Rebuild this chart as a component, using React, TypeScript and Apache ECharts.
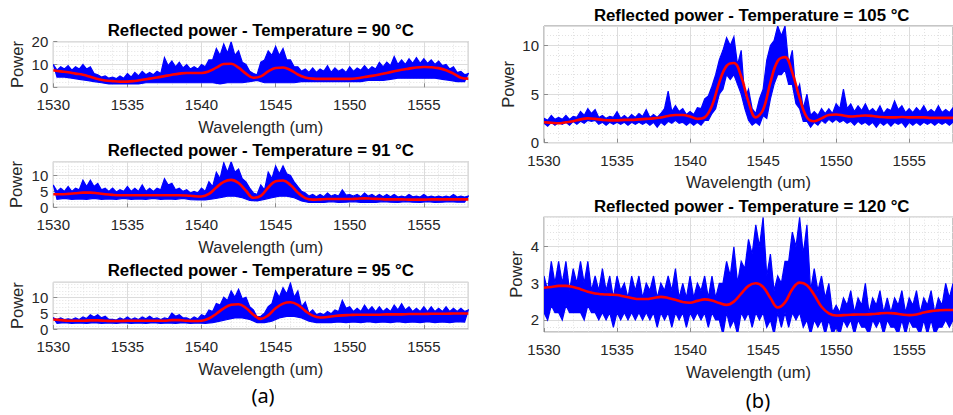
import React, { useEffect, useRef } from "react";
import * as echarts from "echarts";

// Wavelength sampling (nm): values every 0.5 nm from 1530; "mid" arrays sit half a step later
const X_MIN = 1530;
const X_MAX = 1558;
const STEP = 0.5;

// ---- 90 °C ----  top = spike tops, topMid = upper-edge dips, bot = lower edge
const top90 = [10, 9, 9.5, 9, 10, 9, 5.5, 5, 4.5, 5, 6, 6.5, 7, 6.5, 7, 13, 11.5, 11, 10, 9, 10, 12, 17, 19, 20, 16, 10, 6, 11, 16, 18, 17, 12, 9, 8, 8.5, 8, 9.5, 8.5, 8, 9, 8.5, 9.5, 9, 11, 11, 13.5, 12, 12.5, 13, 12.5, 12, 11.5, 10, 9, 7, 6];
const topMid90 = [7.5, 8, 7.5, 8, 8, 6, 4.5, 4, 3.8, 4, 4.5, 5, 5.5, 5.5, 6, 9.5, 9, 8.5, 8, 8, 9, 12, 14, 15, 14, 11, 7, 5.5, 12, 14, 14, 12, 9, 7, 6.5, 6.5, 7, 6.5, 7, 6.5, 7, 7.5, 7.5, 8, 9, 9.5, 10, 10, 10.5, 10.5, 10.5, 10, 9.5, 8, 6.5, 5.5];
const bot90 = [4.5, 4.5, 4, 3.5, 3, 2.5, 2, 1.5, 1.5, 1.5, 1.5, 1.5, 2, 2, 2, 2, 2, 2, 2, 2, 2, 2, 1.5, 2, 2, 2, 2.5, 3, 2, 2, 2, 2, 2, 2.5, 2.5, 2.5, 2.5, 2.5, 2.5, 2.5, 2.5, 2.5, 3, 3, 3, 3.5, 4, 4, 4, 4, 4, 4, 3.5, 3, 2.5, 2.5];
const fit90 = [7.5, 7, 6.6, 6, 5.5, 4.6, 3.6, 3, 2.7, 2.5, 2.5, 2.8, 3.3, 3.8, 4.3, 4.9, 5.5, 6, 6.3, 6.3, 6.3, 7, 8.6, 10.2, 10.3, 8.6, 6, 4.2, 4.8, 7, 8.5, 8.7, 7.6, 5.6, 4.3, 3.8, 3.7, 3.7, 3.7, 3.7, 3.7, 4, 4.5, 5, 5.6, 6.3, 7, 7.7, 8.2, 8.7, 8.9, 8.8, 8.4, 7.5, 6, 4.2, 3.8];

// ---- 91 °C ----
const top91 = [7, 6, 6.5, 6, 8.5, 8.5, 7.5, 6, 6, 5.5, 6.5, 6, 7, 6, 6, 9, 7.5, 6, 5.5, 5, 6, 8, 11, 14, 14.3, 12, 8, 4.5, 7, 11, 13, 13, 10, 6.5, 4.5, 4, 4, 4.5, 4, 5.5, 4, 4, 4.5, 4, 4, 4, 4, 3.5, 4, 3.5, 4, 3.5, 3.5, 3.5, 4, 3.5, 3.5];
const topMid91 = [5, 5, 5, 5.5, 6.5, 6.5, 5.5, 5, 4.8, 5, 5, 5, 5, 5, 5.5, 7, 5.5, 5, 4.5, 4.5, 5, 6.5, 9, 11, 11, 9, 6, 4, 5.5, 9, 10.5, 10.5, 8, 5, 3.5, 3.3, 3.3, 3.5, 3.5, 3.8, 3.5, 3.3, 3.5, 3.3, 3.3, 3.3, 3.2, 3.2, 3.3, 3.2, 3.2, 3.2, 3.2, 3.2, 3.2, 3.2];
const bot91 = [2.5, 2.8, 2.5, 2.6, 2.5, 2.8, 2.5, 2.6, 2.5, 2.8, 2.5, 2.6, 2.5, 2.8, 2.5, 2.6, 2.5, 2.8, 2.4, 2.3, 2.3, 2.6, 3, 3.5, 3.5, 3, 2.2, 2, 2.5, 3, 3.5, 3.5, 3, 2, 1.5, 1.5, 1.5, 1.8, 1.5, 1.6, 1.8, 1.5, 1.6, 1.5, 1.8, 1.6, 1.5, 1.8, 1.6, 1.5, 1.8, 1.5, 1.6, 1.8, 1.6, 1.6];
const fit91 = [4.1, 4.1, 4.2, 4.4, 4.6, 4.6, 4.4, 4.1, 3.9, 3.8, 3.8, 3.8, 3.8, 3.8, 3.8, 3.8, 3.8, 3.8, 3.7, 3.5, 3.4, 4.2, 6.2, 8, 8.6, 7.6, 5.2, 3, 3.6, 6.2, 8.2, 8.4, 7, 4.6, 2.9, 2.4, 2.5, 2.6, 2.6, 2.6, 2.6, 2.7, 2.8, 2.7, 2.6, 2.5, 2.5, 2.5, 2.4, 2.4, 2.4, 2.5, 2.5, 2.5, 2.5, 2.5, 2.5];

// ---- 95 °C ----
const top95 = [3.5, 3.5, 3.2, 3.5, 3.8, 4.5, 4.5, 4, 3, 3.5, 3.8, 3.5, 3.8, 4, 3.5, 3.5, 5, 4.5, 3.5, 3.8, 4.5, 6, 8, 10, 12, 12.5, 10, 6, 4, 7, 12, 13, 14.5, 12, 8.5, 6, 5, 5.5, 6, 9, 7, 6.5, 7.5, 7, 7, 6.5, 7.5, 8, 7, 6.5, 7, 7, 6.5, 7, 6.5, 6.5, 6];
const topMid95 = [3, 3, 3, 3, 3.3, 3.8, 3.5, 3, 2.8, 3, 3, 3, 3.2, 3.2, 3, 3.2, 4, 3.5, 3, 3.2, 4, 5.5, 7.5, 9, 10, 9.5, 7, 3.8, 5, 8, 10, 11, 10, 7, 5, 4.5, 4.5, 4.8, 5.5, 6.5, 5.5, 5.5, 5.8, 5.5, 5.5, 5.5, 6, 6, 5.5, 5.5, 5.5, 5.5, 5.5, 5.5, 5.5, 5.5];
const bot95 = [1.8, 2, 1.8, 1.9, 1.8, 2, 1.8, 1.9, 1.8, 2, 1.8, 1.9, 1.8, 2, 1.8, 1.9, 1.8, 2, 1.8, 1.9, 1.8, 2, 2.5, 3, 3.5, 3.5, 3, 2, 2, 2.5, 3.5, 4, 4, 3.5, 2.5, 2, 2, 2, 2.2, 2, 2.2, 2, 2.3, 2, 2.2, 2, 2.3, 2, 2.2, 2, 2.3, 2, 2.2, 2, 2.3, 2.2];
const fit95 = [3, 2.8, 2.6, 2.6, 2.6, 2.7, 2.7, 2.6, 2.5, 2.5, 2.6, 2.6, 2.6, 2.6, 2.6, 2.6, 2.8, 2.8, 2.6, 2.5, 2.6, 3.3, 4.8, 6.5, 7.6, 7.8, 6.6, 4.5, 3.2, 4.3, 6.5, 8, 8.4, 7.6, 5.7, 4.2, 3.6, 3.8, 4.1, 4.3, 4.4, 4.5, 4.5, 4.5, 4.5, 4.6, 4.6, 4.6, 4.7, 4.7, 4.7, 4.8, 4.8, 4.8, 4.9, 4.9, 4.9];

// ---- 105 °C ----  botIn = lower-edge bumps (same x as top)
const top105 = [2.5, 2.8, 2.6, 2.8, 2.7, 3.2, 3.5, 3.4, 2.8, 2.7, 3.2, 2.8, 2.9, 3, 3.4, 2.9, 3, 5.3, 3.8, 3.5, 3.2, 3.6, 4.5, 5.8, 8.5, 10.8, 10.9, 9.5, 5.5, 3, 5.5, 10, 12, 12, 9.5, 6, 5, 3.2, 3.5, 3.5, 4, 5.5, 4, 3.8, 4, 3.5, 3.8, 3.5, 4.3, 3.8, 3.5, 3.6, 3.8, 3.4, 3.8, 3.4, 3.6];
const topMid105 = [2.3, 2.4, 2.4, 2.4, 2.6, 2.8, 3, 2.6, 2.5, 2.6, 2.5, 2.5, 2.6, 2.7, 2.6, 2.6, 3.5, 3.2, 3.2, 2.9, 2.9, 3.5, 4.8, 7, 9.5, 10, 8, 4.5, 3.5, 4.5, 8.5, 10.5, 11, 8, 5, 3.5, 2.8, 2.8, 3, 3, 3.5, 3.5, 3.2, 3.3, 3.2, 3.1, 3, 3.3, 3.4, 3.1, 3.1, 3.2, 3.1, 3.1, 3.1, 3.1];
const bot105 = [1.7, 1.8, 1.9, 1.8, 1.9, 2, 2.2, 1.9, 1.8, 1.9, 1.9, 1.8, 1.9, 1.9, 1.8, 1.6, 1.8, 2, 2, 1.8, 1.8, 1.8, 2.3, 3.5, 5.5, 6.5, 6, 3.5, 1.8, 1.8, 2.5, 6, 7, 6, 4, 2.2, 1.6, 1.8, 2, 2.1, 2.1, 2, 1.8, 1.9, 1.8, 1.6, 1.8, 1.7, 1.9, 1.6, 1.8, 1.8, 1.9, 1.8, 1.9, 1.8];
const botIn105 = [2, 2.1, 2.1, 2.1, 2.2, 2.2, 2.3, 2.3, 2.1, 2.1, 2.1, 2.1, 2.1, 2.1, 2.1, 2.1, 2.1, 2.2, 2.3, 2.1, 2.1, 2.1, 2.3, 3, 5, 7, 7, 5, 2.3, 2.1, 2.8, 4.5, 7, 7.5, 6, 3.5, 2.2, 2.1, 2.3, 2.4, 2.4, 2.3, 2.2, 2.2, 2.1, 2.1, 2.1, 2.1, 2.1, 2.1, 2.1, 2.1, 2.1, 2.1, 2.1, 2.1, 2.1];
const fit105 = [2.1, 2.05, 2, 2.1, 2.2, 2.4, 2.5, 2.45, 2.35, 2.3, 2.3, 2.35, 2.35, 2.4, 2.45, 2.5, 2.6, 2.75, 2.85, 2.85, 2.7, 2.45, 2.6, 3.8, 6.2, 7.9, 8.2, 6.8, 4.2, 2.6, 3.4, 6.2, 8.4, 8.8, 7.2, 4.6, 2.6, 2.2, 2.5, 2.85, 2.9, 2.8, 2.7, 2.75, 2.8, 2.75, 2.65, 2.6, 2.6, 2.65, 2.6, 2.6, 2.6, 2.55, 2.55, 2.55, 2.55];

// ---- 120 °C ----
const top120 = [3.2, 3.6, 3.6, 3.6, 3.4, 3.6, 3.6, 3.2, 3.4, 3.2, 3.2, 3, 3.2, 3.2, 3, 3.2, 3, 3.2, 3.4, 3, 3.2, 3, 3.2, 3.2, 3, 3.6, 4, 3.6, 4.2, 4.6, 4.8, 3.8, 3.2, 3.6, 4.4, 4.8, 4.6, 3.4, 3.2, 3, 2.4, 2.6, 2.8, 2.6, 3, 2.6, 2.8, 2.6, 2.6, 2.8, 2.6, 2.8, 2.6, 2.8, 2.6, 3, 3];
const topMid120 = [2.8, 3, 3, 2.8, 3, 3, 2.8, 2.8, 2.8, 2.6, 2.8, 2.6, 2.8, 2.6, 2.8, 2.6, 2.8, 2.8, 2.6, 2.6, 2.6, 2.8, 2.6, 2.6, 3, 3.2, 3, 3.4, 3.8, 4, 3.2, 2.8, 3, 3.6, 4, 3.8, 2.8, 2.8, 2.6, 2.2, 2.2, 2.4, 2.2, 2.4, 2.2, 2.4, 2.2, 2.2, 2.4, 2.2, 2.4, 2.2, 2.4, 2.2, 2.4, 2.6];
const bot120 = [2, 2.2, 2, 2.2, 2.2, 2, 2.2, 2, 2, 1.8, 2, 2, 2, 2, 2, 1.8, 2, 1.8, 2, 1.8, 2, 2, 1.8, 2, 1.6, 1.8, 1.6, 2, 1.8, 2, 1.8, 1.6, 1.8, 1.8, 2, 1.8, 1.6, 1.8, 1.6, 1.6, 1.6, 1.8, 1.6, 1.8, 1.6, 1.8, 1.6, 1.8, 1.6, 1.6, 1.8, 1.6, 1.6, 1.6, 1.8, 1.8];
const botIn120 = [2.2, 2.4, 2.2, 2.4, 2.2, 2.2, 2.4, 2.2, 2.2, 2.2, 2.2, 2.2, 2.2, 2.2, 2.2, 2.2, 2.2, 2.2, 2.2, 2.2, 2.2, 2.2, 2.2, 2.2, 2, 2.2, 2, 2.2, 2.2, 2.2, 2.2, 2, 2.2, 2.2, 2.2, 2.2, 2, 2, 2, 2, 1.8, 2, 2, 2, 1.8, 2, 2, 2, 1.8, 2, 2, 1.8, 2, 2, 1.8, 2, 2];
const fit120 = [2.88, 2.9, 2.93, 2.93, 2.9, 2.84, 2.77, 2.72, 2.7, 2.69, 2.68, 2.64, 2.6, 2.57, 2.57, 2.6, 2.63, 2.6, 2.55, 2.49, 2.47, 2.52, 2.56, 2.53, 2.46, 2.41, 2.5, 2.72, 2.93, 3, 2.9, 2.6, 2.34, 2.48, 2.84, 3.02, 2.95, 2.68, 2.36, 2.18, 2.12, 2.13, 2.14, 2.15, 2.15, 2.16, 2.18, 2.19, 2.18, 2.15, 2.13, 2.15, 2.2, 2.24, 2.26, 2.27, 2.27];

const titles = [
  "Reflected power - Temperature = 90 °C",
  "Reflected power - Temperature = 91 °C",
  "Reflected power - Temperature = 95 °C",
  "Reflected power - Temperature = 105 °C",
  "Reflected power - Temperature = 120 °C",
];
const X_NAME = "Wavelength (um)";
const Y_NAME = "Power";

// layout & axis settings per panel
const panels: any[] = [
  { title: titles[0], top: top90, topMid: topMid90, bot: bot90, botIn: null, fit: fit90, yMin: 0, yMax: 20, yMajor: 10, yMinor: 2, hideMaxY: false, hideMinY: false,
    grid: { left: 53.3, top: 41.7, width: 415, height: 45.6 }, titleXY: [260.8, 30], yGap: 28 },
  { title: titles[1], top: top91, topMid: topMid91, bot: bot91, botIn: null, fit: fit91, yMin: 0, yMax: 14.3, yMajor: 5, yMinor: 1, hideMaxY: true, hideMinY: false,
    grid: { left: 53.3, top: 161.7, width: 415, height: 45.6 }, titleXY: [260.8, 150], yGap: 29 },
  { title: titles[2], top: top95, topMid: topMid95, bot: bot95, botIn: null, fit: fit95, yMin: 0, yMax: 14.7, yMajor: 5, yMinor: 1, hideMaxY: true, hideMinY: false,
    grid: { left: 53.3, top: 282.3, width: 415, height: 46.7 }, titleXY: [260.8, 270], yGap: 28 },
  { title: titles[3], top: top105, topMid: topMid105, bot: bot105, botIn: botIn105, fit: fit105, yMin: 0, yMax: 12, yMajor: 5, yMinor: 1, hideMaxY: true, hideMinY: false,
    grid: { left: 544, top: 26, width: 415.5, height: 116.7 }, titleXY: [751.7, 15], yGap: 28 },
  // no fixed interval here: nice ticks land on whole numbers between the odd limits
  { title: titles[4], top: top120, topMid: topMid120, bot: bot120, botIn: botIn120, fit: fit120, yMin: 1.67, yMax: 4.82, yMajor: null, yMinor: null, hideMaxY: true, hideMinY: true,
    grid: { left: 544, top: 216.7, width: 415.5, height: 115.3 }, titleXY: [751.7, 206.5], yGap: 20 },
];

const FONT = "'Liberation Sans', Arial, Helvetica, sans-serif";
const TXT = "#262626";
const FRAME = "#8c8c8c";
const BLUE = "#0000ff";

function curve(fit: number[]) {
  return fit.map((v, i) => [X_MIN + i * STEP, v]);
}

function buildOption() {
  const grid: any[] = [];
  const xAxis: any[] = [];
  const yAxis: any[] = [];
  const series: any[] = [];
  const graphic: any[] = [];
  panels.forEach((p, k) => {
    grid.push({ ...p.grid, show: true, borderColor: FRAME, borderWidth: 1, containLabel: false });
    xAxis.push({
      type: "value", gridIndex: k, min: X_MIN, max: X_MAX, interval: 5, position: "bottom",
      name: X_NAME, nameLocation: "middle", nameGap: 31,
      nameTextStyle: { fontFamily: FONT, fontSize: 16.5, color: TXT },
      axisLine: { show: false },
      axisTick: { show: true, inside: true, length: 4, lineStyle: { color: FRAME } },
      axisLabel: { fontFamily: FONT, fontSize: 15, color: TXT, margin: 10, showMaxLabel: false,
        formatter: (v: number) => String(v) },
      splitLine: { show: true, lineStyle: { color: "#dcdcdc", width: 1 } },
      z: 2,
    });
    xAxis.push({
      type: "value", gridIndex: k, min: X_MIN, max: X_MAX, interval: 1, position: "bottom",
      axisLine: { show: false }, axisTick: { show: false }, axisLabel: { show: false },
      splitLine: { show: true, lineStyle: { color: "#e2e2e2", width: 1, type: [1, 2] } },
      z: 1,
    });
    const majorY: any = {
      type: "value", gridIndex: k, min: p.yMin, max: p.yMax, position: "left",
      name: Y_NAME, nameLocation: "middle", nameGap: p.yGap,
      nameTextStyle: { fontFamily: FONT, fontSize: 16.5, color: TXT },
      axisLine: { show: false },
      axisTick: { show: true, inside: true, length: 4, lineStyle: { color: FRAME } },
      axisLabel: { fontFamily: FONT, fontSize: 15, color: TXT, margin: 5,
        showMaxLabel: p.hideMaxY ? false : true, showMinLabel: p.hideMinY ? false : true },
      splitLine: { show: true, lineStyle: { color: "#dcdcdc", width: 1 } },
      z: 2,
    };
    const minorY: any = {
      type: "value", gridIndex: k, min: p.yMin, max: p.yMax, position: "left",
      axisLine: { show: false }, axisTick: { show: false }, axisLabel: { show: false },
      splitLine: { show: true, lineStyle: { color: "#e2e2e2", width: 1, type: [1, 2] } },
      z: 1,
    };
    if (p.yMajor != null) { majorY.interval = p.yMajor; minorY.interval = p.yMinor; }
    else { majorY.splitNumber = 3; minorY.splitNumber = 16; }
    yAxis.push(majorY, minorY);

    // measured trace: filled between its jagged upper and lower excursions
    series.push({
      type: "custom", xAxisIndex: 2 * k, yAxisIndex: 2 * k, clip: true, z: 3, silent: true,
      data: [[X_MIN, p.top[0]]],
      renderItem: (_params: any, api: any) => {
        const upper: number[][] = [];
        const lower: number[][] = [];
        for (let i = 0; i < p.top.length; i++) {
          const x = X_MIN + i * STEP;
          upper.push(api.coord([x, p.top[i]]));
          if (i < p.topMid.length) upper.push(api.coord([x + STEP / 2, p.topMid[i]]));
          if (p.botIn) lower.push(api.coord([x, p.botIn[i]]));
          if (i < p.bot.length) lower.push(api.coord([x + STEP / 2, p.bot[i]]));
        }
        const pts = upper.concat(lower.reverse());
        return { type: "polygon", shape: { points: pts }, style: { fill: BLUE, stroke: BLUE, lineWidth: 1.2, lineJoin: "miter" } };
      },
    });
    series.push({
      type: "line", xAxisIndex: 2 * k, yAxisIndex: 2 * k, data: curve(p.fit),
      showSymbol: false, symbol: "none", smooth: 0.4, clip: true,
      lineStyle: { color: "#ff0000", width: 2.6 }, z: 4,
    });
    graphic.push({
      type: "text", x: p.titleXY[0], y: p.titleXY[1],
      style: { text: p.title, fontFamily: FONT, fontSize: 16.8, fontWeight: "bold", fill: "#000",
        align: "center", verticalAlign: "middle" },
    });
  });
  graphic.push({ type: "text", x: 263, y: 395,
    style: { text: "(a)", fontFamily: "'Noto Sans', 'Open Sans', sans-serif", fontSize: 20, fill: "#000", align: "center", verticalAlign: "middle" } });
  graphic.push({ type: "text", x: 758, y: 400,
    style: { text: "(b)", fontFamily: "'Noto Sans', 'Open Sans', sans-serif", fontSize: 20, fill: "#000", align: "center", verticalAlign: "middle" } });
  return { animation: false, backgroundColor: "#fff", grid, xAxis, yAxis, series, graphic };
}

export default function App() {
  const ref = useRef<HTMLDivElement>(null);
  useEffect(() => {
    if (!ref.current) return;
    const chart = echarts.init(ref.current, undefined, { renderer: "svg", width: 953, height: 415 });
    chart.setOption(buildOption() as any);
    return () => chart.dispose();
  }, []);
  return (
    <div
      ref={ref}
      style={{ position: "fixed", left: 0, top: 0, width: 953, height: 415, overflow: "hidden", background: "#fff" }}
    />
  );
}
